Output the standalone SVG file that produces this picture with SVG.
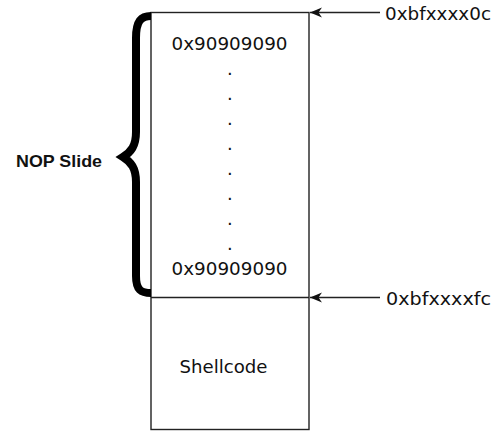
<svg xmlns="http://www.w3.org/2000/svg" width="497" height="438" viewBox="0 0 497 438">
<defs>
<style>
.t{font-family:"DejaVu Sans",sans-serif;font-size:18px;fill:#111}
.b{font-family:"Liberation Sans",Arial,sans-serif;font-weight:bold;font-size:17px;fill:#111}
.box{fill:#fff;stroke:#222;stroke-width:1.4}
.conn{stroke:#222;stroke-width:1.3;fill:none}
</style>
<marker id="ah" markerUnits="userSpaceOnUse" markerWidth="14" markerHeight="12" refX="12" refY="6" orient="auto">
<path d="M0,1 L12,6 L0,11 L3.5,6 Z" fill="#111"/>
</marker>
</defs>
<rect width="497" height="438" fill="#fff"/>
<g id="stack">
<rect class="box" x="151" y="12.5" width="158" height="417"/>
<line class="box" x1="151" y1="297.5" x2="309" y2="297.5"/>
</g>
<g id="nop">
<text class="t" x="171.5" y="50" textLength="116" lengthAdjust="spacingAndGlyphs">0x90909090</text>
<text class="t" x="227" y="75">.</text>
<text class="t" x="227" y="100">.</text>
<text class="t" x="227" y="125">.</text>
<text class="t" x="227" y="150">.</text>
<text class="t" x="227" y="175">.</text>
<text class="t" x="227" y="200">.</text>
<text class="t" x="227" y="225">.</text>
<text class="t" x="227" y="250">.</text>
<text class="t" x="171.5" y="275" textLength="116" lengthAdjust="spacingAndGlyphs">0x90909090</text>
</g>
<g id="shellcode">
<text class="t" x="179.5" y="373" textLength="88" lengthAdjust="spacingAndGlyphs">Shellcode</text>
</g>
<g id="brace">
<path d="M151,16 C141,16 136,21 136,38 L136,132 C136,146 131,152 123,157 C131,162 136,168 136,182 L136,276 C136,290 141,293 151,293" fill="none" stroke="#000" stroke-width="8"/>
<text class="b" x="16" y="166.5" textLength="86" lengthAdjust="spacingAndGlyphs">NOP Slide</text>
</g>
<g id="label-top">
<text class="t" x="385" y="20" textLength="106" lengthAdjust="spacingAndGlyphs">0xbfxxxx0c</text>
</g>
<g id="label-bottom">
<text class="t" x="386" y="305" textLength="105" lengthAdjust="spacingAndGlyphs">0xbfxxxxfc</text>
</g>
<g id="connectors">
<line class="conn" x1="380" y1="12.5" x2="310" y2="12.5" marker-end="url(#ah)"/>
<line class="conn" x1="380" y1="297.5" x2="310" y2="297.5" marker-end="url(#ah)"/>
</g>
</svg>
